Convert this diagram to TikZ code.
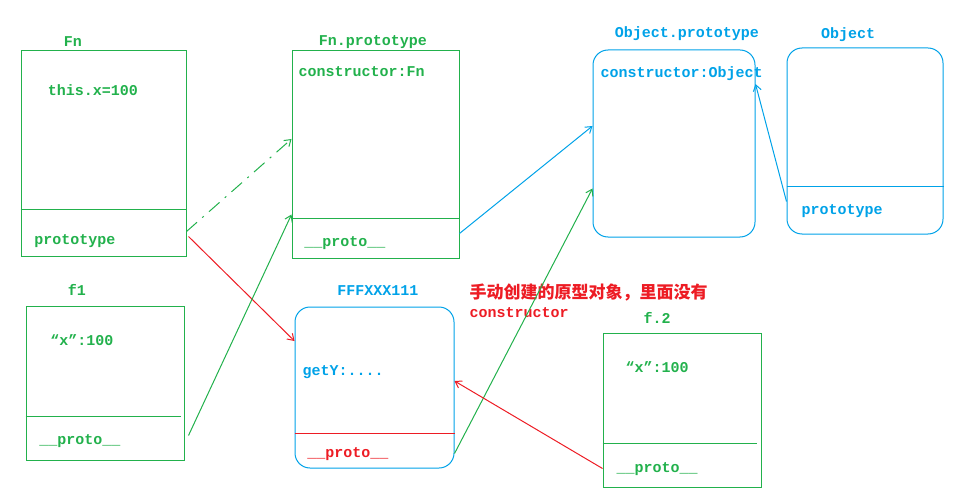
\documentclass[tikz,border=0pt]{standalone}
\usepackage{fontspec}
\setmonofont{Liberation Mono}
\newfontfamily\cjk{Noto Sans CJK SC}
\usetikzlibrary{arrows.meta}

\definecolor{pgreen}{RGB}{34,177,76}
\definecolor{pblue}{RGB}{0,162,232}
\definecolor{pred}{RGB}{237,28,36}

\begin{document}
\begin{tikzpicture}[x=1pt, y=-1pt, line width=1pt,
    gbox/.style={draw=pgreen, rectangle, inner sep=0pt},
    bbox/.style={draw=pblue, rectangle, rounded corners=15pt, inner sep=0pt},
    txt/.style={font=\ttfamily\bfseries\fontsize{15}{17}\selectfont, inner sep=0pt},
    gtxt/.style={txt, text=pgreen},
    btxt/.style={txt, text=pblue},
    rtxt/.style={txt, text=pred},
    link/.style={-{Straight Barb[length=6pt,width=8pt]}}]

\useasboundingbox (0,0) rectangle (963,497);

% boxes
\node[gbox, minimum width=165, minimum height=205] (fn) at (103.5,153.5) {};
\node[gbox, minimum width=167, minimum height=207] (fnp) at (375.5,154.5) {};
\node[bbox, minimum width=162, minimum height=187] (op) at (674,143.5) {};
\node[bbox, minimum width=156, minimum height=186] (obj) at (865,141) {};
\node[gbox, minimum width=158, minimum height=154] (f1) at (105,383) {};
\node[bbox, minimum width=159, minimum height=161] (fff) at (374.5,387.5) {};
\node[gbox, minimum width=158, minimum height=154] (f2) at (682,410) {};

% dividers
\draw[pgreen] ([yshift=47pt]fn.south west) -- ([yshift=47pt]fn.south east);
\draw[pgreen] ([yshift=40pt]fnp.south west) -- ([yshift=40pt]fnp.south east);
\draw[pblue] ([yshift=48pt]obj.south west) -- ([yshift=48pt]obj.south east);
\draw[pgreen] ([yshift=44pt]f1.south west) -- ([yshift=44pt,xshift=-4pt]f1.south east);
\draw[pred] ([yshift=35pt]fff.south west) -- ([yshift=35pt]fff.south east);
\draw[pgreen] ([yshift=44pt]f2.south west) -- ([yshift=44pt,xshift=-5pt]f2.south east);

% titles
\node[gtxt] (fnt) at (73,42) {Fn};
\node[gtxt] (fnpt) at (373,42) {Fn.prototype};
\node[btxt] (opt) at (687,34) {Object.prototype};
\node[btxt] (objt) at (848,35) {Object};
\node[gtxt] (f1t) at (77,290) {f1};
\node[btxt] (ffft) at (378,291) {FFFXXX111};
\node[gtxt] (f2t) at (657,318) {f.2};

% contents
\node[gtxt] (fnx) at (93,90) {this.x=100};
\node[gtxt] (fnproto) at (75,241) {prototype};
\node[gtxt, anchor=west] (fnpc) at (298,72) {constructor:Fn};
\node[gtxt] (fnpp) at (345,243) {\_\_proto\_\_};
\node[btxt, anchor=west] (opc) at (600,74) {constructor:Object};
\node[btxt] (objproto) at (842,211) {prototype};
\node[gtxt] (f1x) at (82,340) {“x”:100};
\node[gtxt] (f1p) at (80,441) {\_\_proto\_\_};
\node[btxt, anchor=west] (fffy) at (302,372) {getY:....};
\node[rtxt] (fffp) at (348,454) {\_\_proto\_\_};
\node[gtxt] (f2x) at (657,367) {“x”:100};
\node[gtxt] (f2p) at (657,469) {\_\_proto\_\_};

% note
\node[text=pred, anchor=west, inner sep=0pt, font=\cjk\bfseries\fontsize{17}{19}\selectfont] (note) at (469,293) {手动创建的原型对象，里面没有};
\node[rtxt, anchor=west] (notec) at (469,313) {constructor};

% links
\draw[link, pgreen, dash pattern=on 14pt off 7pt on 2pt off 7pt] ([yshift=25pt]fn.south east) -- ([yshift=15.5pt]fnp.west);
\draw[link, pred] ([yshift=20pt,xshift=2pt]fn.south east) -- ([yshift=46.5pt]fff.west);
\draw[link, pgreen] ([yshift=25pt,xshift=4pt]f1.south east) -- ([yshift=44pt]fnp.south west);
\draw[link, pblue] ([yshift=25pt]fnp.south east) -- ([yshift=17.5pt]op.west);
\draw[link, pgreen] ([yshift=15pt]fff.south east) -- ([yshift=49pt]op.south west);
\draw[link, pred] ([yshift=19pt]f2.south west) -- ([yshift=6.5pt]fff.east);
\draw[link, pblue] ([yshift=33pt]obj.south west) -- ([yshift=59.5pt]op.east);

\end{tikzpicture}
\end{document}
